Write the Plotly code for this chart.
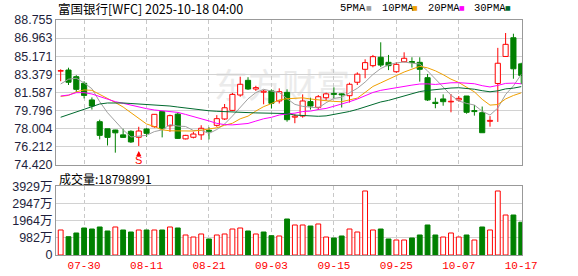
import numpy as np
import pandas as pd
import plotly.graph_objects as go

# ---------------- data ----------------
dates = [
    "2025-07-25", "2025-07-28", "2025-07-29", "2025-07-30", "2025-07-31",
    "2025-08-01", "2025-08-04", "2025-08-05", "2025-08-06", "2025-08-07",
    "2025-08-08", "2025-08-11", "2025-08-12", "2025-08-13", "2025-08-14",
    "2025-08-15", "2025-08-18", "2025-08-19", "2025-08-20", "2025-08-21",
    "2025-08-22", "2025-08-25", "2025-08-26", "2025-08-27", "2025-08-28",
    "2025-08-29", "2025-09-02", "2025-09-03", "2025-09-04", "2025-09-05",
    "2025-09-08", "2025-09-09", "2025-09-10", "2025-09-11", "2025-09-12",
    "2025-09-15", "2025-09-16", "2025-09-17", "2025-09-18", "2025-09-19",
    "2025-09-22", "2025-09-23", "2025-09-24", "2025-09-25", "2025-09-26",
    "2025-09-29", "2025-09-30", "2025-10-01", "2025-10-02", "2025-10-03",
    "2025-10-06", "2025-10-07", "2025-10-08", "2025-10-09", "2025-10-10",
    "2025-10-13", "2025-10-14", "2025-10-15", "2025-10-16", "2025-10-17",
]

open_ = [83.70, 83.81, 83.15, 82.50, 80.85, 78.70, 78.00, 77.88, 77.40, 77.75,
         77.16, 77.98, 78.21, 79.70, 78.30, 79.45, 77.00, 77.16, 77.40, 77.85,
         78.34, 78.97, 79.82, 81.34, 82.79, 81.93, 81.62, 81.74, 80.75, 81.60,
         79.15, 79.26, 80.69, 80.12, 81.07, 81.50, 81.45, 81.27, 82.60, 83.88,
         84.24, 85.07, 84.57, 83.64, 84.63, 84.65, 84.57, 83.05, 80.62, 80.95,
         80.66, 80.85, 81.24, 79.80, 79.59, 78.74, 82.48, 85.15, 87.00, 84.42]
high = [83.88, 84.04, 83.30, 82.70, 81.10, 78.90, 78.00, 77.90, 78.00, 77.85,
        78.20, 78.05, 79.45, 79.75, 79.40, 79.60, 77.40, 77.70, 78.35, 78.15,
        79.35, 80.45, 81.55, 83.15, 83.10, 82.25, 81.85, 81.90, 82.00, 81.90,
        79.45, 81.40, 81.07, 81.34, 81.57, 82.10, 81.50, 82.56, 83.58, 84.87,
        85.30, 86.55, 85.30, 84.57, 85.56, 85.07, 85.07, 83.42, 81.07, 81.40,
        81.44, 81.24, 81.25, 80.35, 80.20, 79.25, 86.00, 87.47, 87.40, 84.53]
low = [82.70, 82.33, 81.60, 81.00, 79.90, 76.95, 76.35, 75.64, 77.10, 76.60,
       76.30, 77.20, 78.10, 77.15, 77.70, 77.00, 76.95, 77.05, 76.90, 76.95,
       78.20, 78.87, 79.75, 81.17, 81.84, 81.74, 80.42, 80.00, 80.50, 78.70,
       78.55, 79.10, 79.90, 79.86, 80.78, 81.01, 80.10, 80.60, 82.33, 83.00,
       84.08, 84.10, 83.80, 83.54, 84.57, 84.05, 82.66, 80.75, 80.03, 80.28,
       79.63, 80.68, 79.49, 79.30, 77.60, 78.21, 78.68, 85.10, 82.95, 82.40]
close = [83.75, 82.60, 81.90, 81.30, 80.25, 77.35, 77.15, 77.60, 77.15, 76.70,
         77.78, 77.55, 79.43, 78.00, 79.30, 77.05, 77.35, 77.48, 78.05, 77.75,
         79.00, 80.08, 81.40, 82.40, 81.93, 82.07, 81.72, 80.52, 81.67, 78.90,
         79.25, 80.75, 80.25, 81.17, 81.45, 81.40, 81.35, 82.40, 83.40, 84.54,
         85.13, 84.30, 84.24, 84.37, 84.97, 84.55, 83.88, 80.85, 80.50, 80.68,
         80.72, 81.01, 79.63, 79.70, 77.61, 78.83, 84.48, 86.35, 83.93, 83.28]
prev_close = 83.10  # close of the day before the first candle

volume = [14340000, 10500000, 12620000, 15490000, 14910000, 16060000, 13770000,
          16060000, 14340000, 13190000, 14340000, 14340000, 14340000, 14340000,
          16060000, 15490000, 11470000, 10320000, 12050000, 9180000, 11470000,
          12050000, 14910000, 15490000, 13770000, 12050000, 13190000, 11080000,
          10900000, 20650000, 17210000, 17210000, 16630000, 17780000, 10320000,
          9750000, 10900000, 14910000, 13190000, 36710000, 14340000, 14910000,
          9180000, 8600000, 8600000, 9750000, 11470000, 17210000, 11470000,
          10320000, 12620000, 10320000, 11470000, 8600000, 16060000, 14340000,
          36710000, 22940000, 22940000, 18798991]

# moving-average values before enough in-window closes exist
ma5_head = [82.43, 82.90, 83.00, 82.53]
ma10_head = [81.20, 81.30, 81.65, 81.84, 81.80, 81.42, 81.00, 80.60, 80.15]
ma20_head = [81.24, 81.34, 81.57, 81.57, 81.44, 81.17, 80.91, 80.68, 80.52, 80.35,
             80.12, 79.99, 79.86, 79.79, 79.74, 79.62, 79.42, 79.22, 79.00]
ma30_head = [79.14, 79.40, 79.65, 79.95, 80.20, 80.45, 80.55, 80.58, 80.55, 80.50,
             80.45, 80.42, 80.38, 80.33, 80.25, 80.15, 80.05, 79.95, 79.85, 79.78,
             79.73, 79.68, 79.65, 79.62, 79.60, 79.57, 79.55, 79.52, 79.50]

price_axis = [74.420, 88.755]
vol_axis_max = 3929  # 万
tick_idx = [3, 11, 19, 27, 35, 43, 51, 59]
signal_idx = [10]
signal_text = ["S"]
title_text = "富国银行[WFC] 2025-10-18 04:00"
ma_names = ["5PMA", "10PMA", "20PMA", "30PMA"]

# ---------------- styles ----------------
RED = "#ff0000"
GREEN = "#008000"
MA_COLORS = ["#a0a0a0", "#f0a000", "#ff00ff", "#006a2e"]
GRID_H = "#d2d2d2"
GRID_V = "#c8c8c8"
FRAME = "#999999"
CJK = "Noto Sans CJK SC"

o = np.array(open_); h = np.array(high); l = np.array(low); c = np.array(close)
n = len(c)
x = np.arange(n)
up = c >= o
body_lo = np.minimum(o, c)
body_hi = np.maximum(o, c)
body_h = np.maximum(body_hi - body_lo, 0.02)


def ma(period, head):
    r = pd.Series(c).rolling(period).mean().to_numpy()
    r[:period - 1] = head
    return r


mas = [ma(5, ma5_head), ma(10, ma10_head), ma(20, ma20_head), ma(30, ma30_head)]

fig = go.Figure()


def wicks(mask, color):
    xs, ys = [], []
    for i in np.where(mask)[0]:
        xs += [i, i, None, i, i, None]
        ys += [l[i], body_lo[i], None, body_hi[i], h[i], None]
    fig.add_trace(go.Scatter(x=xs, y=ys, mode="lines", line=dict(color=color, width=1),
                             hoverinfo="skip", showlegend=False, xaxis="x", yaxis="y"))


# candle bodies
fig.add_trace(go.Bar(
    x=x, y=body_h, base=body_lo, width=0.66,
    marker=dict(color=np.where(up, "#ffffff", GREEN).tolist(),
                line=dict(color=np.where(up, RED, GREEN).tolist(), width=1)),
    showlegend=False, xaxis="x", yaxis="y"))
wicks(up, RED)
wicks(~up, GREEN)

for m, col in zip(mas, MA_COLORS):
    fig.add_trace(go.Scatter(x=x, y=m, mode="lines", line=dict(color=col, width=1),
                             showlegend=False, xaxis="x", yaxis="y"))

# volume
prev = np.concatenate([[prev_close], c[:-1]])
vol_up = c >= prev
vol_w = np.array(volume) / 1e4
fig.add_trace(go.Bar(
    x=x, y=vol_w, width=0.62,
    marker=dict(color=np.where(vol_up, "#ffffff", GREEN).tolist(),
                line=dict(color=np.where(vol_up, RED, GREEN).tolist(), width=1)),
    showlegend=False, xaxis="x2", yaxis="y2"))

price_ticks = np.linspace(price_axis[0], price_axis[1], 9)
vol_ticks = np.linspace(0, vol_axis_max, 5)
vol_text = ["0"] + [f"{round(v)}万" for v in vol_ticks[1:]]

common_x = dict(range=[-0.6, n - 0.9], tickvals=tick_idx, showgrid=True, gridcolor=GRID_V,
                griddash="4px,3px", gridwidth=1, zeroline=False, showline=True, mirror=True,
                linecolor=FRAME, linewidth=1, automargin=False)

annotations = [
    dict(text=title_text, xref="paper", yref="paper", x=0, y=1.049, xanchor="left",
         yanchor="middle", showarrow=False, font=dict(family=CJK, size=12.5, color="#000")),
    dict(text="成交量:" + str(volume[-1]), xref="paper", yref="paper", x=0.003, y=0.326,
         xanchor="left", yanchor="middle", showarrow=False,
         font=dict(family=CJK, size=12, color="#000")),
]
leg_x = [0.605, 0.695, 0.793, 0.892]
sq_x = [0.671, 0.771, 0.871, 0.971]
for name, col, lx, sx in zip(ma_names, MA_COLORS, leg_x, sq_x):
    annotations.append(dict(text=name, xref="paper", yref="paper", x=lx, y=1.051,
                            xanchor="left", yanchor="middle", showarrow=False,
                            font=dict(family="Liberation Mono", size=10.5, color="#000")))
    annotations.append(dict(text="■", xref="paper", yref="paper", x=sx, y=1.053,
                            xanchor="center", yanchor="middle", showarrow=False,
                            font=dict(family="DejaVu Sans", size=6, color=col)))
for si, st in zip(signal_idx, signal_text):
    annotations.append(dict(text=st, x=si, y=l[si], xref="x", yref="y", showarrow=True,
                            arrowhead=2, arrowsize=1, arrowwidth=1, arrowcolor=RED,
                            ax=0, ay=14, standoff=5, borderpad=0,
                            font=dict(family="Liberation Sans", size=11, color=RED)))

fig.update_layout(
    width=578, height=276, margin=dict(l=56, r=56, t=20, b=21, autoexpand=False),
    paper_bgcolor="white", plot_bgcolor="white", showlegend=False,
    xaxis=dict(domain=[0, 1], anchor="y", showticklabels=False, ticks="", **common_x),
    xaxis2=dict(domain=[0, 1], anchor="y2", matches="x", ticktext=[dates[i][5:] for i in tick_idx],
                ticks="",
                tickfont=dict(family="Liberation Mono", size=11, color=RED), **common_x),
    yaxis=dict(domain=[0.383, 1], anchor="x", range=price_axis, tickvals=price_ticks,
               ticktext=[f"{v - 1e-9:.3f}" for v in price_ticks], showgrid=True, gridcolor=GRID_H,
               zeroline=False, showline=True, mirror=True, linecolor=FRAME, ticks="",
               automargin=False,
               tickfont=dict(family="Liberation Sans", size=12.5, color="#1e1e3c")),
    yaxis2=dict(domain=[0, 0.2915], anchor="x2", range=[0, vol_axis_max], tickvals=vol_ticks,
                ticktext=vol_text, showgrid=True, gridcolor=GRID_H, zeroline=False,
                showline=True, mirror=True, linecolor=FRAME, ticks="", automargin=False,
                tickfont=dict(family="Liberation Sans, " + CJK, size=12.5, color="#1e1e3c")),
    annotations=annotations,
    shapes=[dict(type="rect", xref="paper", yref="paper", x0=0.31, x1=0.66, y0=0.62, y1=0.80,
                 line=dict(width=0), fillcolor="rgba(0,0,0,0)", layer="below",
                 label=dict(text="东方财富", font=dict(family=CJK, size=34, color="#ebebeb")))],
    hovermode=False,
)

fig.write_html("out.html")
